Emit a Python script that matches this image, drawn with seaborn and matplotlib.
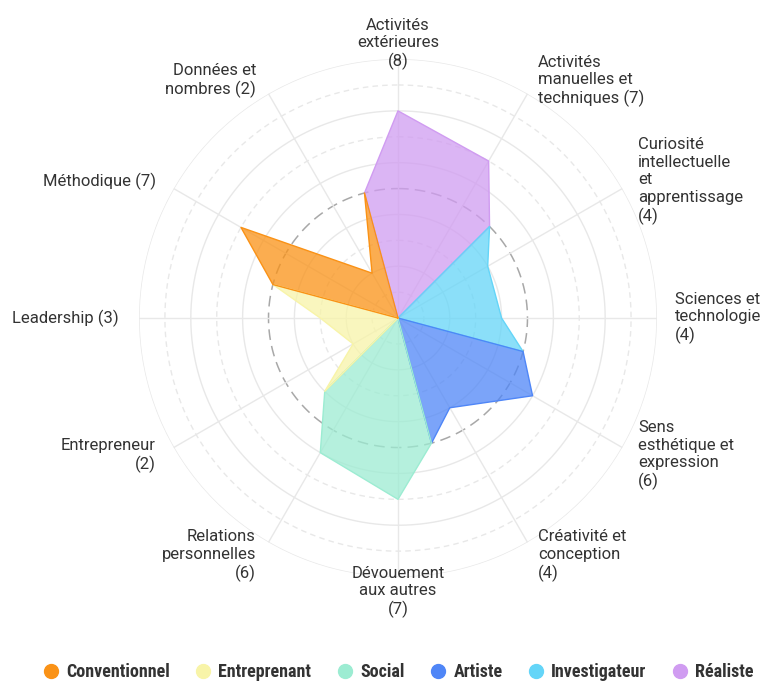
import numpy as np
import pandas as pd
import matplotlib
matplotlib.use("Agg")
import matplotlib.pyplot as plt
from matplotlib.lines import Line2D
from matplotlib import font_manager
import seaborn as sns

# Criteria, clockwise from the top, with their scores
criteria = [
    "Activités\nextérieures", "Activités\nmanuelles et\ntechniques",
    "Curiosité\nintellectuelle\net\napprentissage", "Sciences et\ntechnologie",
    "Sens\nesthétique et\nexpression", "Créativité et\nconception",
    "Dévouement\naux autres", "Relations\npersonnelles",
    "Entrepreneur", "Leadership",
    "Méthodique", "Données et\nnombres",
]
score_suffix = ["\n", "", "\n", "\n", "\n", "\n", "\n", "\n", "\n", "", "", ""]
scores = [8, 7, 4, 4, 6, 4, 7, 6, 2, 3, 7, 2]

# Profile groups, each owning two consecutive criteria (clockwise)
groups = ["Réaliste", "Investigateur", "Artiste", "Social", "Entreprenant", "Conventionnel"]
# Score on the boundary ray that opens each group's sector
boundary_scores = [5, 5, 5, 5, 4, 5]

colors = {
    "Conventionnel": "#FA9216",
    "Entreprenant": "#F8F4A8",
    "Social": "#9CECD2",
    "Artiste": "#4F86F7",
    "Investigateur": "#64D5F8",
    "Réaliste": "#D09CF1",
}
legend_order = ["Conventionnel", "Entreprenant", "Social", "Artiste", "Investigateur", "Réaliste"]

R_MAX = 10

sns.set_theme(style="white")
names = {f.name for f in font_manager.fontManager.ttflist}
label_family = "Roboto" if "Roboto" in names else "DejaVu Sans"
legend_family = next((n for n in ["Roboto Condensed", "Liberation Sans Narrow",
                                  "Open Sans Condensed", "DejaVu Sans"] if n in names),
                     "DejaVu Sans")
plt.rcParams["font.family"] = [label_family, "DejaVu Sans"]

fig = plt.figure(figsize=(7.65, 6.82), dpi=100)
ax = fig.add_axes([0.1817, 0.1539, 0.6771, 0.7595], projection="polar")
ax.set_theta_zero_location("N")
ax.set_theta_direction(-1)
ax.set_ylim(0, R_MAX)
ax.grid(False)
ax.spines["polar"].set_visible(False)
ax.set_xticks([])
ax.set_yticks([])
ax.set_facecolor("none")

n = len(criteria)
axis_angles = np.deg2rad(np.arange(n) * 360 / n)

# Concentric grid rings
circle = np.linspace(0, 2 * np.pi, 361)
for v in range(1, R_MAX + 1):
    if v == 5:
        ax.plot(circle, np.full_like(circle, v), color="#a8a8a8", lw=1.1,
                dashes=(7, 4), zorder=1)
    elif v % 2 == 0:
        ax.plot(circle, np.full_like(circle, v), color="#e8e8e8", lw=1.0, zorder=1)
    else:
        ax.plot(circle, np.full_like(circle, v), color="#e8e8e8", lw=1.0,
                dashes=(4, 3), zorder=1)

# Radial spokes
for a in axis_angles:
    ax.plot([a, a], [0, R_MAX], color="#e8e8e8", lw=1.0, zorder=1)

# Build one closed polygon per group
rows = []
step = 360 / n
for g, name in enumerate(groups):
    start = np.deg2rad(2 * g * step - step / 2)
    end = np.deg2rad(2 * g * step + 1.5 * step)
    i0, i1 = 2 * g, 2 * g + 1
    pts = [
        (start, 0.0),
        (start, boundary_scores[g]),
        (axis_angles[i0], scores[i0]),
        (axis_angles[i1], scores[i1]),
        (end, boundary_scores[(g + 1) % len(groups)]),
        (end, 0.0),
        (start, 0.0),
    ]
    for k, (t, r) in enumerate(pts):
        rows.append({"groupe": name, "ordre": k, "theta": t, "r": r})
poly = pd.DataFrame(rows)

for name, d in poly.groupby("groupe", sort=False):
    ax.fill(d["theta"], d["r"], color=colors[name], alpha=0.75, lw=0, zorder=2)

sns.lineplot(data=poly, x="theta", y="r", hue="groupe", units="groupe",
             estimator=None, sort=False, palette=colors, lw=1.0, ax=ax,
             legend=False, zorder=3)
ax.set_xlabel("")
ax.set_ylabel("")

# Criterion labels around the chart
label_r = 10.58
for a, lab, suf, s in zip(axis_angles, criteria, score_suffix, scores):
    deg = np.rad2deg(a) % 360
    if deg < 1 or abs(deg - 180) < 1:
        ha, dx = "center", 0
    elif deg < 180:
        ha, dx = "left", 3
    else:
        ha, dx = "right", -5
    sep = suf if suf else " "
    ax.annotate(f"{lab}{sep}({s})", xy=(a, label_r), xytext=(dx, 0),
                textcoords="offset pixels", ha=ha, va="center", ma=ha,
                fontsize=12, color="#333333", linespacing=1.2,
                annotation_clip=False)

# Legend
handles = [Line2D([], [], marker="o", ls="", markersize=10,
                  markerfacecolor=colors[g], markeredgecolor=colors[g], label=g)
           for g in legend_order]
leg = fig.legend(handles=handles, loc="center", bbox_to_anchor=(0.521, 0.0147),
                 ncol=6, frameon=False, handlelength=0.8, handletextpad=0.45,
                 columnspacing=1.45, prop={"family": legend_family, "weight": "bold",
                                           "size": 13})
for t in leg.get_texts():
    t.set_color("#333333")

fig.savefig("out.png", dpi=100)
